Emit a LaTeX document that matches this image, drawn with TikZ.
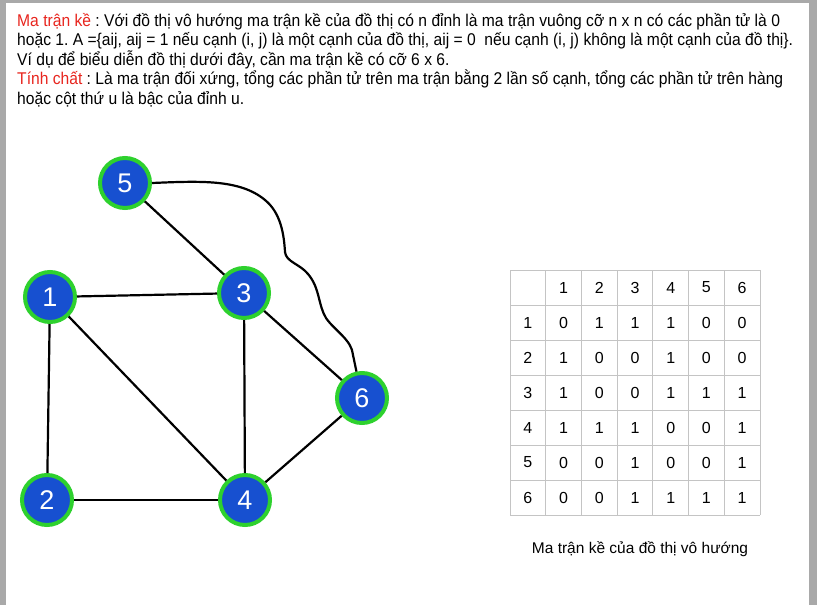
\documentclass[tikz,border=0pt]{standalone}
\usepackage{fontspec}
\setmainfont{Liberation Sans}
\newfontfamily\narrowfont[FakeStretch=0.92]{Liberation Sans}
\usetikzlibrary{positioning}
\definecolor{vblue}{HTML}{1750D0}
\definecolor{vgreen}{HTML}{2ED12E}
\definecolor{vred}{HTML}{E8251E}
\definecolor{pagegray}{HTML}{A9A9A9}
\definecolor{gridgray}{HTML}{C4C4C4}
\frenchspacing

\begin{document}
\begin{tikzpicture}[x=1pt,y=-1pt,
  vertex/.style={draw=vgreen, line width=4pt, circle, fill=vblue, minimum size=50pt, inner sep=0pt, text=white, font=\fontsize{27}{27}\selectfont},
  edge/.style={line width=2.2pt, black},
  para/.style={anchor=base west, inner sep=0pt, font=\narrowfont\fontsize{17}{17}\selectfont},
  cell/.style={font=\fontsize{16}{16}\selectfont, inner sep=0pt}]
\fill[pagegray] (0,0) rectangle (817,605);
\fill[white] (6,3) rectangle (809,605);
\useasboundingbox (0,0) rectangle (817,605);

\node[para] (line1) at (17,26) {{\color{vred}Ma trận kề} : Với đồ thị vô hướng ma trận kề của đồ thị có n đỉnh là ma trận vuông cỡ n x n có các phần tử là 0};
\node[para] (line2) at ([yshift=-19.5pt]line1.base west) {hoặc 1. A =\{aij, aij = 1 nếu cạnh (i, j) là một cạnh của đồ thị, aij = 0\ \ nếu cạnh (i, j) không là một cạnh của đồ thị\}.};
\node[para] (line3) at ([yshift=-19.5pt]line2.base west) {Ví dụ để biểu diễn đồ thị dưới đây, cần ma trận kề có cỡ 6 x 6.};
\node[para] (line4) at ([yshift=-19.5pt]line3.base west) {{\color{vred}Tính chất} : Là ma trận đối xứng, tổng các phần tử trên ma trận bằng 2 lần số cạnh, tổng các phần tử trên hàng};
\node[para] (line5) at ([yshift=-19.5pt]line4.base west) {hoặc cột thứ u là bậc của đỉnh u.};

\node[vertex] (n5) at (125,183) {5};
\node[vertex] (n1) at (50,297) {1};
\node[vertex] (n3) at (244,293) {3};
\node[vertex] (n6) at (362,398) {6};
\node[vertex] (n2) at (47,500) {2};
\node[vertex] (n4) at (245,500) {4};

\draw[edge] (n5) -- (n3);
\draw[edge] (n1) -- (n3);
\draw[edge] (n1) -- (n2);
\draw[edge] (n1) -- (n4);
\draw[edge] (n3) -- (n4);
\draw[edge] (n3) -- (n6);
\draw[edge] (n2) -- (n4);
\draw[edge] (n4) -- (n6);
\draw[edge] (n5.east) .. controls (200,181) and (240,179) .. (265,200)
  .. controls (281,213) and (284,235) .. (285,252)
  .. controls (286,262) and (300,264) .. (308,274)
  .. controls (320,288) and (318,305) .. (326,318)
  .. controls (334,330) and (352,340) .. (353,355) -- (n6);

\foreach \i in {0,...,7}
  \draw[gridgray, line width=1pt] (510+\i*35.714,270) -- (510+\i*35.714,515)
                                  (510,270+\i*35) -- (760,270+\i*35);
\foreach \c in {1,...,6} {
  \node[cell] (h\c) at (510+\c*35.714+17.86,287.5) {\c};
  \node[cell] (r\c) at (527.86,287.5+\c*35) {\c};
}
\foreach \r/\vals in {1/{0,1,1,1,0,0}, 2/{1,0,0,1,0,0}, 3/{1,0,0,1,1,1},
                      4/{1,1,1,0,0,1}, 5/{0,0,1,0,0,1}, 6/{0,0,1,1,1,1}}
  \foreach \v [count=\c] in \vals
    \node[cell] (m\r\c) at (510+\c*35.714+17.86,287.5+\r*35) {\v};

\node[font=\fontsize{15.5}{15.5}\selectfont] (caption) at (640,549) {Ma trận kề của đồ thị vô hướng};
\end{tikzpicture}
\end{document}
